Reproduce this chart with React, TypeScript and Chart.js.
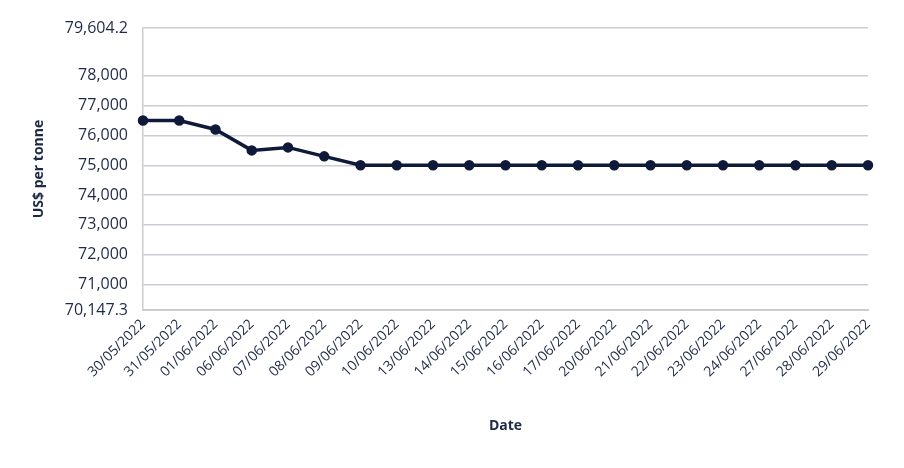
import React, { useEffect, useRef } from "react";
import { Chart, registerables } from "chart.js";

Chart.register(...registerables);

const dates = [
  "30/05/2022", "31/05/2022", "01/06/2022", "06/06/2022", "07/06/2022",
  "08/06/2022", "09/06/2022", "10/06/2022", "13/06/2022", "14/06/2022",
  "15/06/2022", "16/06/2022", "17/06/2022", "20/06/2022", "21/06/2022",
  "22/06/2022", "23/06/2022", "24/06/2022", "27/06/2022", "28/06/2022",
  "29/06/2022",
];

const prices = [
  76500, 76500, 76200, 75500, 75600, 75300, 75000, 75000, 75000, 75000,
  75000, 75000, 75000, 75000, 75000, 75000, 75000, 75000, 75000, 75000,
  75000,
];

const yMin = 70147.3;
const yMax = 79604.2;
const yTicks = [70147.3, 71000, 72000, 73000, 74000, 75000, 76000, 77000, 78000, 79604.2];

const textColor = "#1e2a45";
const gridColor = "#c9cdd3";
const lineColor = "#0f1a3a";

export default function App() {
  const ref = useRef<HTMLCanvasElement | null>(null);

  useEffect(() => {
    if (!ref.current) return;
    const chart = new Chart(ref.current, {
      type: "line",
      data: {
        labels: dates,
        datasets: [
          {
            data: prices,
            borderColor: lineColor,
            backgroundColor: lineColor,
            borderWidth: 3.5,
            pointRadius: 3.5,
            pointBackgroundColor: lineColor,
            pointBorderColor: lineColor,
            tension: 0,
          },
        ],
      },
      options: {
        animation: false,
        responsive: true,
        maintainAspectRatio: false,
        layout: { padding: { left: 27, right: 36, top: 28, bottom: 30 } },
        plugins: { legend: { display: false }, tooltip: { enabled: false } },
        scales: {
          x: {
            offset: false,
            grid: { display: false, drawTicks: false },
            border: { display: true, color: gridColor, width: 2 },
            ticks: {
              autoSkip: false,
              maxRotation: 45,
              minRotation: 45,
              padding: 6,
              color: textColor,
              font: { family: "Open Sans", size: 14, weight: 500 },
            },
            title: {
              display: true,
              text: "Date",
              color: textColor,
              font: { family: "Open Sans", size: 14, weight: "bold" },
              padding: { top: 4, bottom: 4 },
            },
            afterFit: (scale: any) => {
              scale.height = 468 - 310 - 30;
            },
          },
          y: {
            min: yMin,
            max: yMax,
            afterBuildTicks: (scale: any) => {
              scale.ticks = yTicks.map((v) => ({ value: v }));
            },
            grid: { color: gridColor, lineWidth: 1.5, drawTicks: false },
            border: { display: true, color: gridColor, width: 1.5 },
            ticks: {
              padding: 15,
              color: textColor,
              font: { family: "Open Sans", size: 16, weight: 500 },
              callback: (v: any) =>
                Number(v).toLocaleString("en-US", { maximumFractionDigits: 1 }),
            },
            title: {
              display: true,
              text: "US$ per tonne",
              color: textColor,
              font: { family: "Open Sans", size: 14, weight: "bold" },
              padding: { top: 4, bottom: 4 },
            },
            afterFit: (scale: any) => {
              scale.width = 143 - 27;
            },
          },
        },
      },
    });
    return () => chart.destroy();
  }, []);

  return (
    <div style={{ position: "fixed", left: 0, top: 0, width: 904, height: 468, background: "#fff" }}>
      <canvas ref={ref} />
    </div>
  );
}
